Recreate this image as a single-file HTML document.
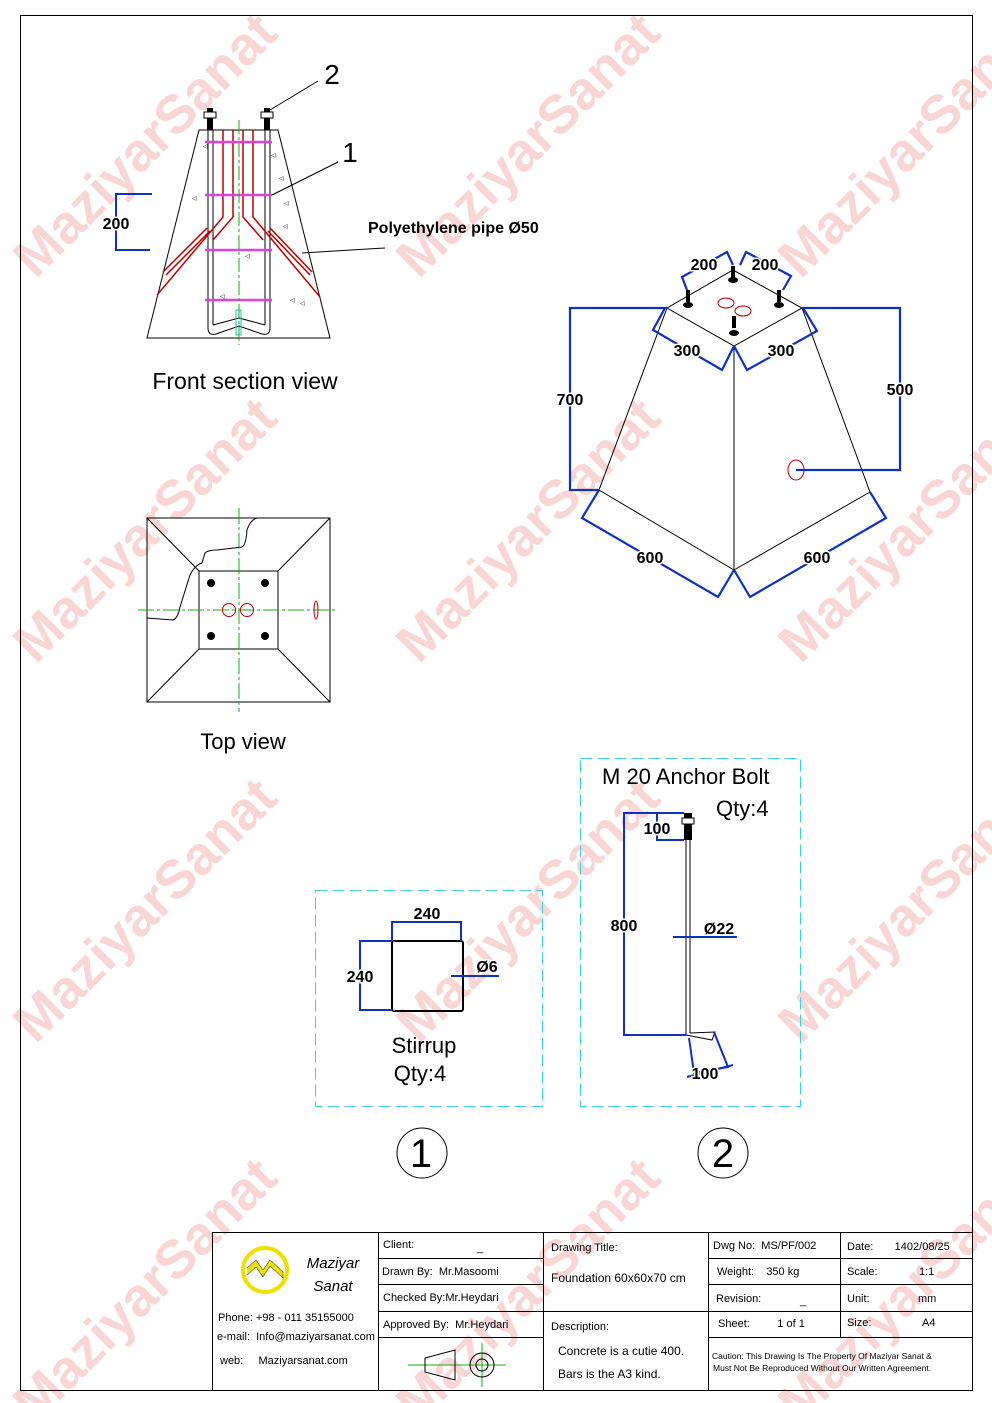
<!DOCTYPE html>
<html><head><meta charset="utf-8"><style>
html,body{margin:0;padding:0;background:#fff}
svg{display:block}
text{font-family:"Liberation Sans",sans-serif}
.pre text{white-space:pre}
</style></head><body>
<svg width="992" height="1403" viewBox="0 0 992 1403" xmlns="http://www.w3.org/2000/svg">
<rect width="992" height="1403" fill="#fff"/>
<g fill="#f9d6d6" font-weight="bold" font-size="54" text-anchor="middle">
<text transform="translate(145,145) rotate(-45)" dy="18">MaziyarSanat</text>
<text transform="translate(528,145) rotate(-45)" dy="18">MaziyarSanat</text>
<text transform="translate(910,145) rotate(-45)" dy="18">MaziyarSanat</text>
<text transform="translate(145,530) rotate(-45)" dy="18">MaziyarSanat</text>
<text transform="translate(528,530) rotate(-45)" dy="18">MaziyarSanat</text>
<text transform="translate(910,530) rotate(-45)" dy="18">MaziyarSanat</text>
<text transform="translate(145,910) rotate(-45)" dy="18">MaziyarSanat</text>
<text transform="translate(528,910) rotate(-45)" dy="18">MaziyarSanat</text>
<text transform="translate(910,910) rotate(-45)" dy="18">MaziyarSanat</text>
<text transform="translate(145,1290) rotate(-45)" dy="18">MaziyarSanat</text>
<text transform="translate(528,1290) rotate(-45)" dy="18">MaziyarSanat</text>
<text transform="translate(910,1290) rotate(-45)" dy="18">MaziyarSanat</text>
</g>
<rect x="20.5" y="15.5" width="952" height="1375" fill="none" stroke="#000" stroke-width="1"/>

<g fill="none" stroke="#000" stroke-width="1">
<polygon points="199,130 278,130 330,338 147,338"/>
<line x1="208" y1="130" x2="208" y2="328"/><line x1="213" y1="130" x2="213" y2="325"/>
<line x1="265" y1="130" x2="265" y2="325"/><line x1="270" y1="130" x2="270" y2="328"/>
<path d="M208,328 Q208,336 216,334 L239,326 L262,334 Q270,336 270,328"/>
<path d="M213,325 L239,318 L265,325"/>
</g>
<g stroke="#c00000" stroke-width="1.5" fill="none">
<polyline points="223,130 223,217 157,295"/>
<polyline points="233,130 233,217 213,240"/>
<polyline points="243,130 243,217 263,240"/>
<polyline points="253,130 253,217 320,297"/>
<line x1="207" y1="228" x2="163" y2="272"/><line x1="210" y1="231" x2="166" y2="275"/>
<line x1="270" y1="228" x2="312" y2="272"/><line x1="268" y1="231" x2="310" y2="275"/>
</g>
<g stroke="#e040e0" stroke-width="2.5">
<line x1="205" y1="142" x2="272" y2="142"/><line x1="205" y1="195" x2="272" y2="195"/>
<line x1="205" y1="250" x2="272" y2="250"/><line x1="205" y1="300" x2="272" y2="300"/>
</g>
<line x1="239" y1="120" x2="239" y2="345" stroke="#10b010" stroke-width="1" stroke-dasharray="14,3,3,3"/>
<rect x="236" y="310" width="5" height="25" fill="none" stroke="#20c0c0"/>
<g fill="#000">
<rect x="207" y="108" width="6" height="22"/><rect x="264" y="108" width="6" height="22"/>
</g>
<g fill="#fff" stroke="#000"><rect x="204" y="112" width="12" height="6"/><rect x="261" y="112" width="12" height="6"/></g>
<g fill="#000" font-size="6">
<text x="203" y="148">◁</text><text x="271" y="157">◁</text><text x="279" y="180">◁</text><text x="192" y="200">◁</text><text x="284" y="205">◁</text><text x="283" y="228">◁</text><text x="245" y="258">◁</text><text x="220" y="298">◁</text><text x="290" y="302">◁</text><text x="300" y="305">◁</text>
</g>
<polyline points="152,194 116,194 116,250 150,250" fill="none" stroke="#1030c0" stroke-width="2"/>
<text x="116" y="229" font-size="16" font-weight="bold" text-anchor="middle" fill="#000" stroke="#fff" stroke-width="3" paint-order="stroke">200</text>
<g stroke="#000" stroke-width="1"><line x1="318" y1="81" x2="270" y2="110"/><line x1="338" y1="162" x2="272" y2="195"/><line x1="385" y1="248" x2="302" y2="253"/></g>
<text x="332" y="84" font-size="28" text-anchor="middle">2</text>
<text x="350" y="162" font-size="28" text-anchor="middle">1</text>
<text x="368" y="233" font-size="16" font-weight="bold">Polyethylene pipe Ø50</text>
<text x="245" y="389" font-size="23" text-anchor="middle">Front section view</text>

<g fill="none" stroke="#000" stroke-width="1">
<rect x="147" y="518" width="183" height="184"/>
<rect x="199" y="571" width="79" height="78"/>
<line x1="147" y1="518" x2="199" y2="571"/><line x1="330" y1="518" x2="278" y2="571"/>
<line x1="147" y1="702" x2="199" y2="649"/><line x1="330" y1="702" x2="278" y2="649"/>
<path d="M147,618 L173,620 Q178,618 180,607 L190,575 Q195,565 202,563 L205,553 Q208,550 217,550 L242,547 Q246,545 247,530 Q250,520 257,518"/>
</g>
<g fill="#000"><circle cx="211" cy="583" r="4"/><circle cx="265" cy="583" r="4"/><circle cx="211" cy="636" r="4"/><circle cx="265" cy="636" r="4"/></g>
<g stroke="#10b010" stroke-dasharray="16,3,3,3"><line x1="138" y1="610" x2="338" y2="610"/><line x1="239" y1="508" x2="239" y2="712"/></g>
<g fill="none" stroke="#c00000"><circle cx="229" cy="610" r="6.5"/><circle cx="247" cy="610" r="6.5"/><ellipse cx="316" cy="610" rx="2" ry="9"/></g>
<text x="243" y="749" font-size="22" text-anchor="middle">Top view</text>

<g fill="none" stroke="#000" stroke-width="1">
<polygon points="733,270 802,308 734,346 667,308"/>
<line x1="667" y1="308" x2="599" y2="490"/><line x1="802" y1="308" x2="870" y2="492"/>
<line x1="734" y1="346" x2="734" y2="570"/>
<line x1="599" y1="490" x2="734" y2="570"/><line x1="870" y1="492" x2="734" y2="570"/>
</g>
<g fill="#000">
<rect x="731" y="266" width="4" height="12"/><ellipse cx="733" cy="280" rx="5" ry="3"/>
<rect x="686" y="290" width="4" height="12"/><ellipse cx="688" cy="305" rx="5" ry="3"/>
<rect x="777" y="290" width="4" height="12"/><ellipse cx="779" cy="305" rx="5" ry="3"/>
<rect x="732" y="316" width="4" height="12"/><ellipse cx="734" cy="333" rx="5" ry="3"/>
</g>
<g fill="none" stroke="#c00000"><ellipse cx="726" cy="303" rx="8" ry="5"/><ellipse cx="743" cy="311" rx="8" ry="5"/><ellipse cx="796" cy="470" rx="8" ry="10"/></g>
<g fill="none" stroke="#1030c0" stroke-width="2.2">
<polyline points="667,308 570,308 570,490 599,490"/>
<polyline points="802,308 900,308 900,470 796,470"/>
<polyline points="665,308 653,330 722,370 734,346"/>
<polyline points="734,346 747,370 817,331 803,308"/>
<polyline points="599,490 582,518 718,597 734,570"/>
<polyline points="734,570 750,597 886,518 870,492"/>
<polyline points="687,290 682,277 727,252 733,265"/>
<polyline points="740,265 746,252 791,276 783,290"/>
</g>
<g font-size="16" font-weight="bold" text-anchor="middle" fill="#000" stroke="#fff" stroke-width="3" paint-order="stroke">
<text x="704" y="270">200</text><text x="765" y="270">200</text>
<text x="687" y="356">300</text><text x="781" y="356">300</text>
<text x="570" y="405">700</text><text x="900" y="395">500</text>
<text x="650" y="563">600</text><text x="817" y="563">600</text>
</g>

<rect x="315.5" y="890.5" width="227" height="216" fill="none" stroke="#40d0d8" stroke-dasharray="12,5"/>
<rect x="392" y="941" width="71" height="70" rx="2" fill="none" stroke="#000" stroke-width="2"/>
<line x1="394" y1="941" x2="394" y2="1011" stroke="#fff" stroke-width="0.8"/>
<g fill="none" stroke="#1030c0" stroke-width="2">
<polyline points="392,941 392,922 461,922 461,941"/>
<polyline points="392,941 360,941 360,1010 392,1010"/>
<line x1="451" y1="976" x2="499" y2="976"/>
</g>
<g font-size="16" font-weight="bold" text-anchor="middle" fill="#000" stroke="#fff" stroke-width="3" paint-order="stroke">
<text x="427" y="919">240</text><text x="360" y="982">240</text><text x="487" y="972">Ø6</text>
</g>
<text x="424" y="1053" font-size="22" text-anchor="middle">Stirrup</text>
<text x="420" y="1081" font-size="22" text-anchor="middle">Qty:4</text>

<rect x="580.5" y="758.5" width="220" height="348" fill="none" stroke="#40d0d8" stroke-dasharray="12,5"/>
<text x="602" y="784" font-size="22">M 20 Anchor Bolt</text>
<text x="716" y="816" font-size="22">Qty:4</text>
<g fill="none" stroke="#000" stroke-width="1">
<line x1="686" y1="838" x2="686" y2="1035"/><line x1="690" y1="838" x2="690" y2="1033"/>
<path d="M686,1035 L712,1040 L715,1032 L690,1033"/>
</g>
<rect x="684" y="813" width="8" height="27" fill="#000"/>
<rect x="682" y="818" width="12" height="6" fill="#fff" stroke="#000"/>
<g fill="none" stroke="#1030c0" stroke-width="2">
<polyline points="684,813 624,813 624,1035 686,1035"/>
<polyline points="657,813 657,840 684,840"/>
<line x1="673" y1="937" x2="737" y2="937"/>
<polyline points="689,1038 694,1073 728,1067 714,1032"/>
<line x1="687" y1="1077" x2="733" y2="1065"/>
</g>
<g font-size="16" font-weight="bold" text-anchor="middle" fill="#000" stroke="#fff" stroke-width="3" paint-order="stroke">
<text x="657" y="834">100</text><text x="624" y="931">800</text><text x="719" y="934">Ø22</text><text x="705" y="1079">100</text>
</g>
<circle cx="422" cy="1153" r="25" fill="none" stroke="#000"/>
<circle cx="723" cy="1153" r="25" fill="none" stroke="#000"/>
<text x="421" y="1167" font-size="40" text-anchor="middle">1</text>
<text x="723" y="1167" font-size="40" text-anchor="middle">2</text>

<g fill="none" stroke="#000" stroke-width="1">
<rect x="212.5" y="1232.5" width="760" height="158"/>
<line x1="378.5" y1="1232" x2="378.5" y2="1390"/>
<line x1="543.5" y1="1232" x2="543.5" y2="1390"/>
<line x1="708.5" y1="1232" x2="708.5" y2="1390"/>
<line x1="840.5" y1="1232" x2="840.5" y2="1337"/>
<line x1="378" y1="1258.5" x2="543" y2="1258.5"/>
<line x1="378" y1="1284.5" x2="543" y2="1284.5"/>
<line x1="378" y1="1311.5" x2="708" y2="1311.5"/>
<line x1="378" y1="1337.5" x2="543" y2="1337.5"/>
<line x1="708" y1="1258.5" x2="972" y2="1258.5"/>
<line x1="708" y1="1284.5" x2="972" y2="1284.5"/>
<line x1="708" y1="1311.5" x2="972" y2="1311.5"/>
<line x1="708" y1="1337.5" x2="972" y2="1337.5"/>
</g>
<circle cx="265" cy="1270" r="22" fill="none" stroke="#f0e000" stroke-width="4"/>
<polyline points="247,1268 256,1260 263,1270 270,1260 283,1272 283,1278 270,1266 263,1277 256,1267 247,1275" fill="#f0e000" stroke="#000" stroke-width="0.5"/>
<text x="333" y="1268" font-family="Liberation Serif,serif" font-style="italic" font-size="15" text-anchor="middle">Maziyar</text>
<text x="333" y="1291" font-family="Liberation Serif,serif" font-style="italic" font-size="15" text-anchor="middle">Sanat</text>
<g class="pre" font-size="11" fill="#000" style="white-space:pre">
<text x="218" y="1321">Phone: +98 - 011 35155000</text>
<text x="217" y="1340">e-mail:  Info@maziyarsanat.com</text>
<text x="220" y="1364">web:     Maziyarsanat.com</text>
<text x="383" y="1248">Client:</text><text x="477" y="1251">_</text>
<text x="382" y="1275">Drawn By:  Mr.Masoomi</text>
<text x="383" y="1301">Checked By:Mr.Heydari</text>
<text x="383" y="1328">Approved By:  Mr.Heydari</text>
<text x="551" y="1251">Drawing Title:</text>
<text x="551" y="1282" font-size="12">Foundation 60x60x70 cm</text>
<text x="551" y="1330">Description:</text>
<text x="558" y="1355" font-size="12">Concrete is a cutie 400.</text>
<text x="558" y="1378" font-size="12">Bars is the A3 kind.</text>
<text x="713" y="1249">Dwg No:  MS/PF/002</text>
<text x="717" y="1275">Weight:    350 kg</text>
<text x="716" y="1302">Revision:</text><text x="800" y="1304">_</text>
<text x="718" y="1327">Sheet:         1 of 1</text>
<text x="847" y="1250">Date:       1402/08/25</text>
<text x="847" y="1275">Scale:</text><text x="919" y="1275">1:1</text>
<text x="847" y="1302">Unit:</text><text x="918" y="1302">mm</text>
<text x="847" y="1326">Size:</text><text x="922" y="1326">A4</text>
</g>
<g font-size="8.5" fill="#000">
<text x="712" y="1359">Caution: This Drawing Is The Property Of Maziyar Sanat &amp;</text>
<text x="713" y="1371">Must Not Be Reproduced Without Our Written Agreement.</text>
</g>
<g stroke="#10b010" stroke-width="1"><line x1="408" y1="1365" x2="470" y2="1365"/><line x1="458" y1="1365" x2="506" y2="1365"/><line x1="482" y1="1343" x2="482" y2="1387"/></g>
<g fill="none" stroke="#000"><polygon points="425,1358 455,1350 455,1380 425,1372"/><circle cx="482" cy="1365" r="12"/><circle cx="482" cy="1365" r="6"/></g>
</svg>
</body></html>
